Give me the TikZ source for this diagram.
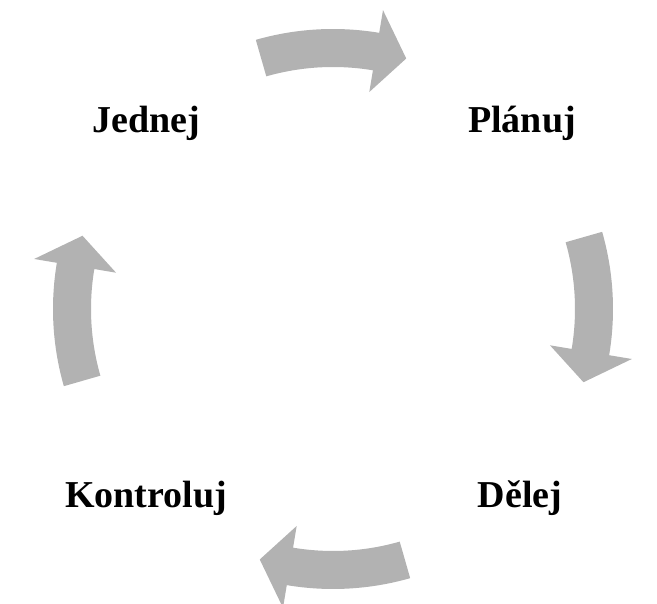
\documentclass[tikz,border=0pt]{standalone}
\usepackage{fontspec}
\setmainfont{Liberation Serif}
\usepackage{tikz}
\usetikzlibrary{positioning}

\begin{document}
\begin{tikzpicture}[
		x=1pt, y=1pt,
		label/.style={font=\fontsize{38}{40}\selectfont\bfseries, text=black, anchor=base, inner sep=0pt},
		arrowfill/.style={fill=black!30, draw=none}
		]
		
		\useasboundingbox (0,0) rectangle (657,604);
		\coordinate (ctr) at (333,295);
		
		% Step labels
		\node[label] (jednej) at (146,471) {Jednej};
		\node[label] (planuj) at (522,471) {Plánuj};
		\node[label] (delej) at (520,96) {Dělej};
		\node[label] (kontroluj) at (146,96) {Kontroluj};
		
		% Block arrows round the cycle
		\fill[arrowfill, shift={(ctr)}] (106:280pt) arc[start angle=106, end angle=80.5, radius=280pt]
			-- (80.5:303pt) -- (73.7:261pt) -- (80.5:220pt) -- (80.5:242pt)
			arc[start angle=80.5, end angle=106, radius=242pt] -- cycle;
		\fill[arrowfill, shift={(ctr)}] (16:280pt) arc[start angle=16, end angle=-9.5, radius=280pt]
			-- (-9.5:303pt) -- (-16.3:261pt) -- (-9.5:220pt) -- (-9.5:242pt)
			arc[start angle=-9.5, end angle=16, radius=242pt] -- cycle;
		\fill[arrowfill, shift={(ctr)}] (-74:280pt) arc[start angle=-74, end angle=-99.5, radius=280pt]
			-- (-99.5:303pt) -- (-106.3:261pt) -- (-99.5:220pt) -- (-99.5:242pt)
			arc[start angle=-99.5, end angle=-74, radius=242pt] -- cycle;
		\fill[arrowfill, shift={(ctr)}] (196:280pt) arc[start angle=196, end angle=170.5, radius=280pt]
			-- (170.5:303pt) -- (163.7:261pt) -- (170.5:220pt) -- (170.5:242pt)
			arc[start angle=170.5, end angle=196, radius=242pt] -- cycle;
		
	\end{tikzpicture}
\end{document}
